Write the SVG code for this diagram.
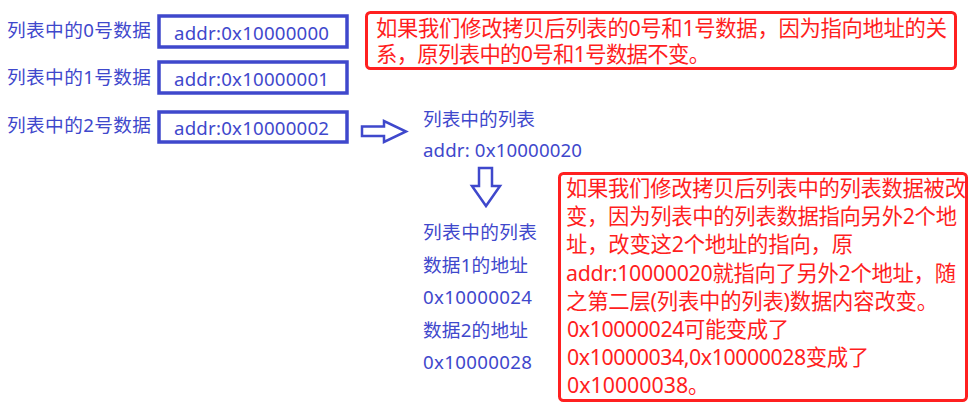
<svg xmlns="http://www.w3.org/2000/svg" width="975" height="410" viewBox="0 0 975 410">
<style>
text { font-family: "Noto Sans", "Noto Sans CJK SC", sans-serif; }
.b { fill: #3F48CC; font-size: 18.67px; }
.r { fill: #FF1E1E; font-size: 21.33px; }
.box { fill: #FFFFFF; stroke: #3F48CC; stroke-width: 3.5; }
.note { fill: #FFFFFF; stroke: #FF2020; stroke-width: 3; }
.arrow { fill: #FFFFFF; stroke: #3F48CC; stroke-width: 2.5; stroke-linejoin: miter; }
</style>
<rect x="0" y="0" width="975" height="410" fill="#FFFFFF"/>

<g id="item0">
  <text class="b" x="7" y="36.5" textLength="144" lengthAdjust="spacing">列表中的0号数据</text>
  <rect class="box" x="159" y="16" width="188" height="31"/>
  <text class="b" x="174" y="39.5" textLength="155" lengthAdjust="spacing">addr:0x10000000</text>
</g>
<g id="item1">
  <text class="b" x="7" y="83.5" textLength="144" lengthAdjust="spacing">列表中的1号数据</text>
  <rect class="box" x="159" y="62" width="188" height="31"/>
  <text class="b" x="174" y="86" textLength="155" lengthAdjust="spacing">addr:0x10000001</text>
</g>
<g id="item2">
  <text class="b" x="7" y="131.5" textLength="144" lengthAdjust="spacing">列表中的2号数据</text>
  <rect class="box" x="159" y="112" width="188" height="30"/>
  <text class="b" x="174" y="135" textLength="155" lengthAdjust="spacing">addr:0x10000002</text>
</g>

<g id="note1">
  <rect class="note" x="366.5" y="12.5" width="589" height="56" rx="4"/>
  <text class="r" x="376" y="35.5" textLength="571" lengthAdjust="spacing">如果我们修改拷贝后列表的0号和1号数据，因为指向地址的关</text>
  <text class="r" x="376" y="62" textLength="334" lengthAdjust="spacing">系，原列表中的0号和1号数据不变。</text>
</g>

<g id="innerList">
  <text class="b" x="423" y="126" textLength="112" lengthAdjust="spacing">列表中的列表</text>
  <text class="b" x="423" y="157" textLength="159" lengthAdjust="spacing">addr: 0x10000020</text>
</g>

<g id="innerItems">
  <text class="b" x="423" y="238.5" textLength="114" lengthAdjust="spacing">列表中的列表</text>
  <text class="b" x="423" y="272" textLength="105" lengthAdjust="spacing">数据1的地址</text>
  <text class="b" x="423" y="304" textLength="109" lengthAdjust="spacing">0x10000024</text>
  <text class="b" x="423" y="337" textLength="105" lengthAdjust="spacing">数据2的地址</text>
  <text class="b" x="423" y="369" textLength="109" lengthAdjust="spacing">0x10000028</text>
</g>

<g id="note2">
  <rect class="note" x="559.5" y="173.5" width="407" height="227" rx="4"/>
  <text class="r" x="566" y="196" textLength="400" lengthAdjust="spacing">如果我们修改拷贝后列表中的列表数据被改</text>
  <text class="r" x="566" y="224" textLength="391" lengthAdjust="spacing">变，因为列表中的列表数据指向另外2个地</text>
  <text class="r" x="566" y="252" textLength="287" lengthAdjust="spacing">址，改变这2个地址的指向，原</text>
  <text class="r" x="566" y="280.5" textLength="390" lengthAdjust="spacing">addr:10000020就指向了另外2个地址，随</text>
  <text class="r" x="566" y="308.5" textLength="372" lengthAdjust="spacing">之第二层(列表中的列表)数据内容改变。</text>
  <text class="r" x="567" y="336.5" textLength="222" lengthAdjust="spacing">0x10000024可能变成了</text>
  <text class="r" x="567" y="364.5" textLength="302" lengthAdjust="spacing">0x10000034,0x10000028变成了</text>
  <text class="r" x="567" y="393">0x10000038。</text>
</g>

<g id="connectors">
  <polygon class="arrow" points="362,126.5 384,126.5 384,121 406,131.5 384,142 384,136 362,136"/>
  <polygon class="arrow" points="479,168 492,168 492,186 500,186 486,206 472,186 479,186"/>
</g>
</svg>
